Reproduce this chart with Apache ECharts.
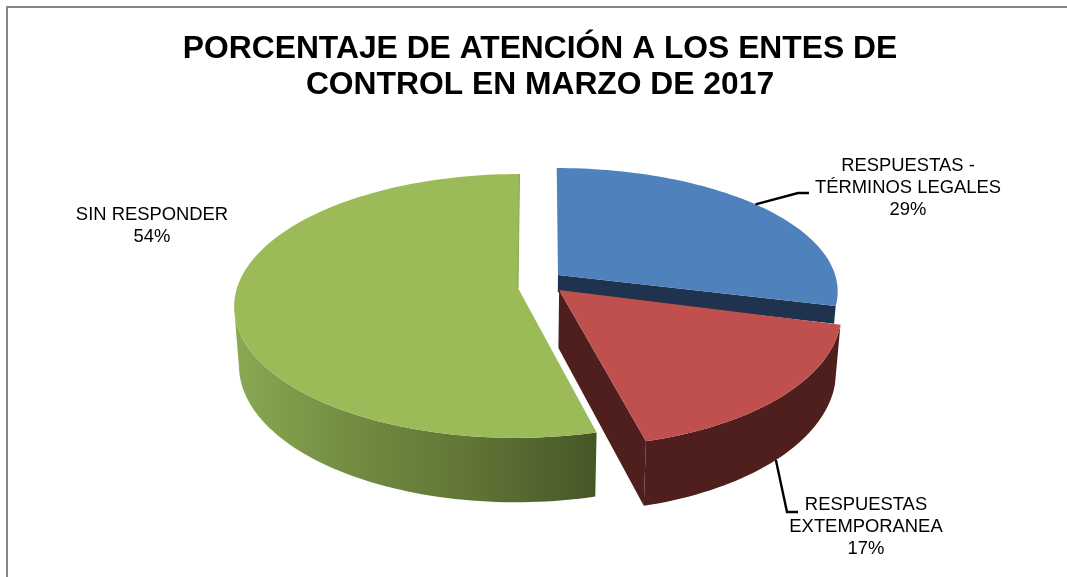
<!DOCTYPE html>
<html>
<head>
<meta charset="utf-8">
<title>Porcentaje de atención</title>
<script src="https://cdn.jsdelivr.net/npm/echarts@6/dist/echarts.min.js"></script>
<style>
    html, body { margin: 0; padding: 0; background: #fff; }
    #chart { width: 1067px; height: 577px; }
</style>
</head>
<body>
<div id="chart"></div>
<script>
var categories = ['RESPUESTAS - TÉRMINOS LEGALES', 'RESPUESTAS EXTEMPORANEA', 'SIN RESPONDER'];
var labelLines = [['RESPUESTAS -', 'TÉRMINOS LEGALES'], ['RESPUESTAS', 'EXTEMPORANEA'], ['SIN RESPONDER']];
var values = [29, 17, 54];
var titleText = 'PORCENTAJE DE ATENCIÓN A LOS ENTES DE\nCONTROL EN MARZO DE 2017';

var topColors = ['#4f81bd', '#c0504d', '#9bbb59'];
var sideColors = ['#1f334e', '#4f1f1e', '#4f1f1e'];

// look of the tilted disc: centre, radius, perspective
var view = { x: 518, y: 288, r: 281, squash: 129.5, k: 0.136 };
// how far each slice is pulled out of the pie, on the disc
var pullOut = [
    { x: 0.1443, y: -0.1016, sx: 1, sy: 0.958, skew: 0.0133, faceDepth: 0.3 },
    { x: 0.146, y: 0.0154, sx: 0.99, sy: 1.037, skew: 0, faceDepth: 1 },
    { x: 0, y: 0, sx: 1, sy: 1, skew: 0.006, faceDepth: 1 }
];
// label anchors, next to the leader lines
var labelPos = [[908, 187.5], [866, 527], [152, 225.5]];
var elbows = [[[798, 193], [809, 193]], [[787, 512], [798, 512]], null];
var leaderShift = [-1.5, 0.7, 0];

function project(i, deg, rad) {
    var a = deg * Math.PI / 180;
    var p = pullOut[i];
    var dx = p.x + Math.sin(a) * rad * p.sx + Math.cos(a) * rad * p.skew;
    var dy = p.y - Math.cos(a) * rad * p.sy;
    var w = 1 - view.k * dy;
    return [view.x + view.r * dx / w, view.y + view.squash * dy / w];
}

function drop(pt, depth) {
    depth = depth === undefined ? 1 : depth;
    return [
        pt[0] + (view.x - pt[0]) * 0.017 * depth,
        pt[1] + (58 + 0.043 * (pt[1] - 290)) * depth
    ];
}

function arcPoints(i, from, to) {
    var pts = [];
    var n = Math.max(8, Math.ceil((to - from) / 1.5));
    for (var j = 0; j <= n; j++) {
        pts.push(project(i, from + (to - from) * j / n, 1));
    }
    return pts;
}

// the outer wall stops where the rim turns away from the viewer
function frontOfArc(arc) {
    var last = 0;
    arc.forEach(function (pt, j) {
        if (pt[0] < arc[last][0]) last = j;
    });
    return last > 0 ? arc.slice(0, last + 1) : arc;
}

function renderSlice(params, api) {
    var i = params.dataIndex;
    var from = api.value(1);
    var to = api.value(2);
    var total = api.value(3);
    var start = from / total * 360;
    var end = to / total * 360;
    var mid = (start + end) / 2;

    var apex = project(i, 0, 0);
    var arc = arcPoints(i, start, end);
    var children = [];
    var depth = pullOut[i].faceDepth;

    if (i !== 2) {
        // radial face, on blue only the strip above red shows
        var far = arc[arc.length - 1];
        children.push({
            type: 'polygon',
            shape: { points: [apex, far, drop(far, depth), drop(apex, depth)] },
            style: { fill: sideColors[i] }
        });
    }
    if (i !== 0) {
        var wallFill = sideColors[i];
        if (i === 2) {
            wallFill = new echarts.graphic.LinearGradient(1, 0, 0, 0, [
                { offset: 0, color: '#465727' },
                { offset: 0.35, color: '#617536' },
                { offset: 0.7, color: '#738e43' },
                { offset: 1, color: '#8aa952' }
            ]);
        }
        var front = i === 2 ? frontOfArc(arc) : arc;
        var frontDown = front.map(function (pt) { return drop(pt); }).reverse();
        children.push({
            type: 'polygon',
            shape: { points: front.concat(frontDown) },
            style: { fill: wallFill }
        });
    }
    // top of the slice
    children.push({
        type: 'polygon',
        shape: { points: [apex].concat(arc) },
        style: { fill: topColors[i] }
    });
    if (i === 2) {
        // thin edge along the back cut
        children.push({
            type: 'polyline',
            shape: { points: [apex, arc[arc.length - 1]] },
            style: { stroke: '#86a64e', lineWidth: 1, fill: null }
        });
    }

    // label and its leader
    var lines = labelLines[i].concat([values[i] + '%']);
    children.push({
        type: 'text',
        x: labelPos[i][0],
        y: labelPos[i][1],
        style: {
            text: lines.join('\n'),
            fill: '#000',
            font: '18.4px "Liberation Sans", Arial, sans-serif',
            lineHeight: 22,
            align: 'center',
            verticalAlign: 'middle'
        }
    });
    if (elbows[i]) {
        var anchor = project(i, mid + leaderShift[i], 1);
        if (i === 1) anchor = drop(anchor);
        children.push({
            type: 'polyline',
            shape: { points: [anchor].concat(elbows[i]) },
            style: { stroke: '#000', lineWidth: 2.4, fill: null }
        });
    }
    return { type: 'group', children: children };
}

var sum = values.reduce(function (a, b) { return a + b; }, 0);
var running = 0;
var rows = values.map(function (v, i) {
    var row = [categories[i], running, running + v, sum];
    running += v;
    return row;
});

var chart = echarts.init(document.getElementById('chart'), null, { renderer: 'canvas' });
chart.setOption({
    animation: false,
    backgroundColor: '#fff',
    title: {
        text: titleText,
        left: 535,
        top: 26,
        textAlign: 'center',
        textStyle: {
            fontFamily: '"Liberation Sans", Arial, sans-serif',
            fontWeight: 'bold',
            fontSize: 31.8,
            lineHeight: 36,
            color: '#000'
        }
    },
    graphic: [{
        type: 'rect',
        silent: true,
        z: -1,
        shape: { x: 7, y: 7, width: 1100, height: 600 },
        style: { fill: '#fff', stroke: '#868686', lineWidth: 2 }
    }],
    series: [{
        type: 'custom',
        coordinateSystem: 'none',
        silent: true,
        renderItem: renderSlice,
        data: rows
    }]
});
</script>
</body>
</html>
